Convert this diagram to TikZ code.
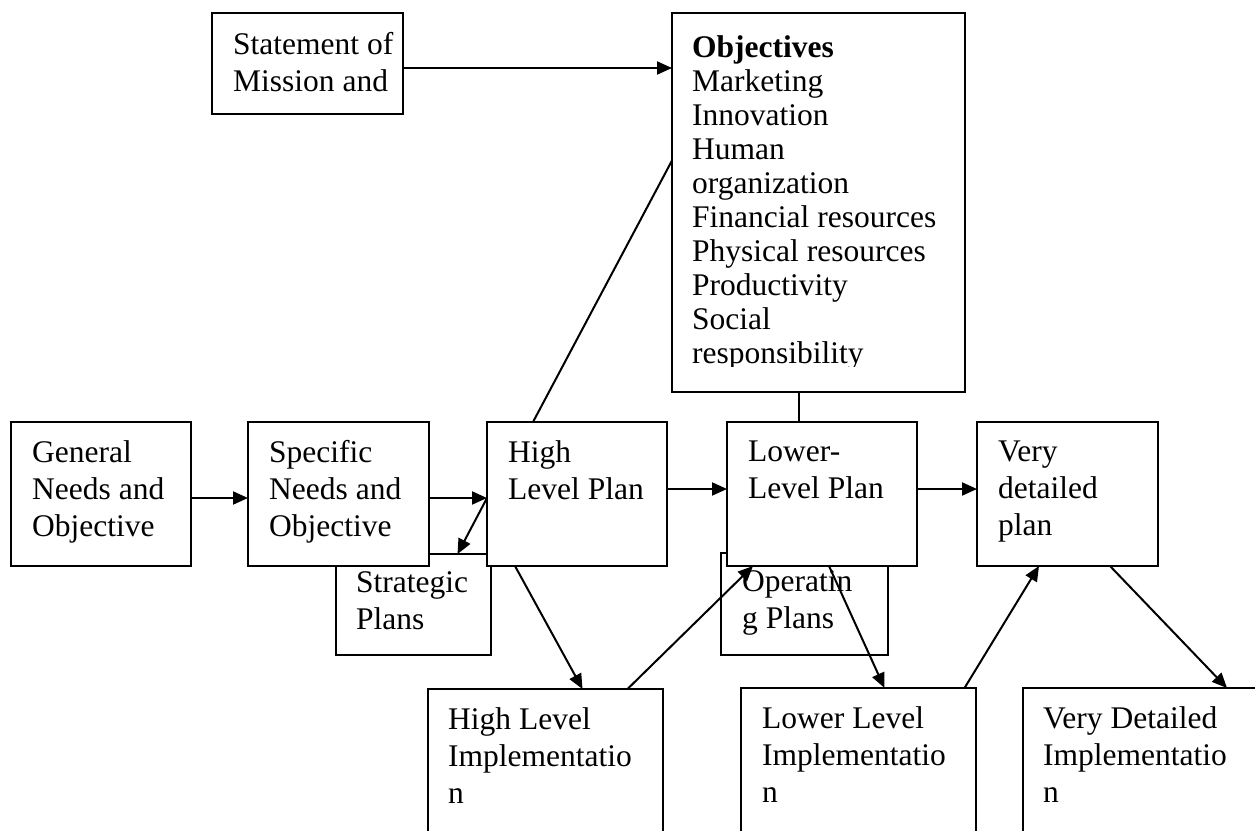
\documentclass[tikz,border=0pt]{standalone}
\usepackage{fontspec}
\setmainfont{Liberation Serif}
\usepackage{tikz}
\usetikzlibrary{arrows.meta,positioning,calc}

\tikzset{
  box/.style={draw, line width=2pt, fill=white, inner sep=0pt, outer sep=0pt,
              anchor=north west},
  txt/.style={inner sep=0pt, anchor=north west, align=left,
              font=\fontsize{31.5}{37}\selectfont},
  link/.style={line width=2pt},
  arr/.style={line width=2pt, -{Triangle[length=15pt,width=13pt]}}
}

\begin{document}
\begin{tikzpicture}[x=1pt, y=-1pt]
\clip (0,0) rectangle (1255,830);
\fill[white] (0,0) rectangle (1255,830);

% top row
\node[box, minimum width=191pt, minimum height=101pt] (mission) at (212,13) {};
\node[txt] at ([shift={(21pt,-19pt)}]mission.north west) {Statement of\\Mission and};
\node[box, minimum width=293pt, minimum height=379pt] (obj) at (672,13) {};
\begin{scope}
  \clip (obj.north west) rectangle ([yshift=26pt]obj.south east);
  \node[txt, font=\fontsize{31.5}{34}\selectfont] at ([shift={(20pt,-22pt)}]obj.north west)
    {\textbf{Objectives}\\Marketing\\Innovation\\Human\\organization\\Financial resources\\
     Physical resources\\Productivity\\Social\\responsibility};
\end{scope}

% boxes under the plan row
\node[box, minimum width=155pt, minimum height=101pt] (strat) at (336,554) {};
\node[txt] at ([shift={(20pt,-17pt)}]strat.north west) {Strategic\\Plans};
\node[box, minimum width=167pt, minimum height=102pt] (oper) at (721,553) {};

% plan row
\node[box, minimum width=180pt, minimum height=144pt] (gen) at (11,422) {};
\node[txt] at ([shift={(21pt,-18pt)}]gen.north west) {General\\Needs and\\Objective};
\node[box, minimum width=181pt, minimum height=144pt] (spec) at (248,422) {};
\node[txt] at ([shift={(21pt,-18pt)}]spec.north west) {Specific\\Needs and\\Objective};
\node[box, minimum width=180pt, minimum height=144pt] (high) at (487,422) {};
\node[txt] at ([shift={(21pt,-18pt)}]high.north west) {High\\Level Plan};
\node[box, minimum width=190pt, minimum height=144pt] (lower) at (727,422) {};
\node[txt] at ([shift={(21pt,-19pt)}]lower.north west) {Lower-\\Level Plan};
\node[box, minimum width=181pt, minimum height=144pt] (vdet) at (977,422) {};
\node[txt] at ([shift={(21pt,-19pt)}]vdet.north west) {Very\\detailed\\plan};
\node[txt] at ([shift={(21pt,-17pt)}]oper.north west) {Operatin\\g Plans};

% implementation row
\node[box, minimum width=235pt, minimum height=200pt] (himp) at (428,689) {};
\node[txt] at ([shift={(20pt,-18pt)}]himp.north west) {High Level\\Implementatio\\n};
\node[box, minimum width=235pt, minimum height=200pt] (limp) at (741,688) {};
\node[txt] at ([shift={(21pt,-18pt)}]limp.north west) {Lower Level\\Implementatio\\n};
\node[box, minimum width=240pt, minimum height=200pt] (vimp) at (1023,688) {};
\node[txt] at ([shift={(20pt,-18pt)}]vimp.north west) {Very Detailed\\Implementatio\\n};

% connectors
\draw[arr] ([yshift=-4.5pt]mission.east) -- ([yshift=-4.5pt]mission.east -| obj.west);
\draw[arr] ([yshift=-4pt]gen.east) -- ([yshift=-4pt]spec.west);
\draw[arr] ([yshift=-4pt]spec.east) -- ([yshift=-4pt]high.west);
\draw[arr] ([yshift=5pt]high.east) -- ([yshift=5pt]lower.west);
\draw[arr] ([yshift=5pt]lower.east) -- ([yshift=5pt]vdet.west);
\draw[arr] ([yshift=-4pt]high.west) -- ([xshift=44pt]strat.north);
\draw[link] ([xshift=-44pt]high.north) -- ([yshift=42pt]obj.west);
\draw[link] ([xshift=-20pt]obj.south) -- ([xshift=-20pt]obj.south |- lower.north);
\draw[arr] ([xshift=28pt]high.south west) -- ([xshift=37pt]himp.north);
\draw[arr] ([xshift=82pt]himp.north) -- ([xshift=26pt]lower.south west);
\draw[arr] ([xshift=102pt]lower.south west) -- ([xshift=26pt]limp.north);
\draw[arr] ([xshift=106pt]limp.north) -- ([xshift=62pt]vdet.south west);
\draw[arr] ([xshift=133pt]vdet.south west) -- ([xshift=204pt]vimp.north west);
\end{tikzpicture}
\end{document}
